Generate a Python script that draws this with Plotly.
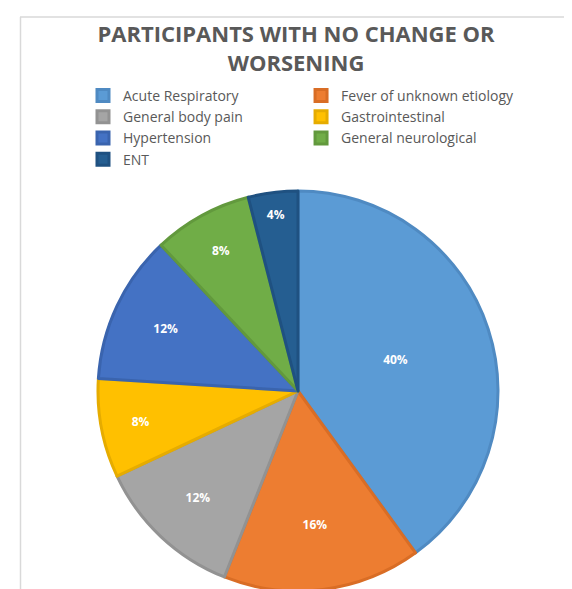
import plotly.graph_objects as go

categories = ["Acute Respiratory", "Fever of unknown etiology", "General body pain",
              "Gastrointestinal", "Hypertension", "General neurological", "ENT"]
values = [40, 16, 12, 8, 12, 8, 4]
colors = ["#5B9BD5", "#ED7D31", "#A5A5A5", "#FFC000", "#4472C4", "#70AD47", "#255E91"]
edge_colors = ["#4F8AC2", "#D96D25", "#929292", "#E6AC00", "#3A64AE", "#62993D", "#1F5181"]
title_text = "PARTICIPANTS WITH NO CHANGE OR<br>WORSENING"

W, H = 572, 589

fig = go.Figure(go.Pie(
    labels=categories,
    values=values,
    sort=False,
    direction="clockwise",
    rotation=0,
    marker=dict(colors=colors, line=dict(color=edge_colors, width=3)),
    texttemplate="%{percent:.0%}",
    textposition="inside",
    insidetextorientation="horizontal",
    textfont=dict(family="Open Sans", size=12, color="white", weight="bold"),
    domain=dict(x=[90 / W, 490 / W], y=[1 - 583 / H, 1 - 183 / H]),
    hoverinfo="label+percent",
))

fig.update_layout(
    width=W, height=H,
    margin=dict(l=0, r=0, t=0, b=0),
    paper_bgcolor="white",
    plot_bgcolor="white",
    title=dict(
        text=title_text,
        x=288 / W, xanchor="center",
        y=1 - 34 / H, yanchor="top", yref="container",
        font=dict(family="Open Sans", size=22, color="#595959", weight="bold"),
    ),
    legend=dict(
        orientation="h",
        x=75 / W, xanchor="left",
        y=1 - 72 / H, yanchor="top",
        itemwidth=30,
        font=dict(family="Open Sans", size=14, color="#595959"),
        bgcolor="rgba(0,0,0,0)",
    ),
    shapes=[
        dict(type="line", xref="paper", yref="paper",
             x0=12.5 / W, x1=12.5 / W, y0=0, y1=1 - 9 / H,
             line=dict(color="#D9D9D9", width=1.5)),
        dict(type="line", xref="paper", yref="paper",
             x0=12 / W, x1=1, y0=1 - 9 / H, y1=1 - 9 / H,
             line=dict(color="#D9D9D9", width=1.5)),
    ],
)

fig.write_html("out.html")
